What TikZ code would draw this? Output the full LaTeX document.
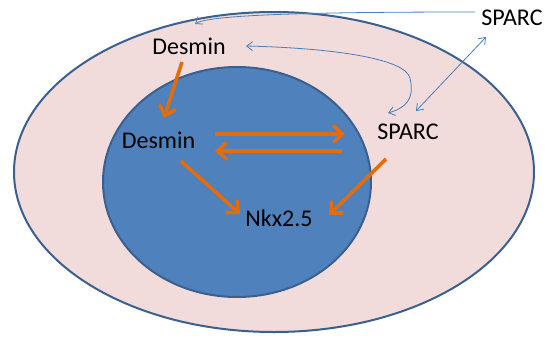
\documentclass[tikz,border=0pt]{standalone}
\usepackage{fontspec}
\setmainfont{Carlito}
\usetikzlibrary{arrows.meta}
\definecolor{outerfill}{HTML}{F2DCDB}
\definecolor{ringline}{HTML}{3A6090}
\definecolor{innerfill}{HTML}{4F81BD}
\definecolor{orangeA}{HTML}{E46C0A}
\definecolor{thinblue}{HTML}{4A7EBB}
\tikzset{
  lbl/.style={font=\fontsize{24}{28}\selectfont, inner sep=0pt, anchor=base},
  orar/.style={draw=orangeA, line width=3.6pt, -{Straight Barb[length=9pt,width=17pt,line width=3.6pt]}},
  blar/.style={draw=thinblue, line width=0.8pt, -{Straight Barb[length=6pt,width=9pt]}},
  blar2/.style={draw=thinblue, line width=0.8pt, {Straight Barb[length=6pt,width=9pt]}-{Straight Barb[length=6pt,width=9pt]}}
}
\begin{document}
\begin{tikzpicture}[x=1pt,y=-1pt]
\useasboundingbox (0,0) rectangle (547,338);
\draw[fill=outerfill, draw=ringline, line width=2pt] (274,172) ellipse [x radius=260, y radius=160];
\draw[fill=innerfill, draw=ringline, line width=2pt] (237,182) ellipse [x radius=134, y radius=115];
\node[lbl] (sparcT) at (512,25) {SPARC};
\node[lbl] (desO) at (189,54) {Desmin};
\node[lbl] (desI) at (158.5,148) {Desmin};
\node[lbl] (sparcM) at (408,139) {SPARC};
\node[lbl] (nkx) at (279,226) {Nkx2.5};
% orange arrows
\coordinate (a1s) at (182,62); \coordinate (a1e) at (164,118);
\draw[orar] (a1s) -- (a1e);
\coordinate (a2s) at (215,134); \coordinate (a2e) at (345,134);
\draw[orar] (a2s) -- (a2e);
\coordinate (a3s) at (342,151); \coordinate (a3e) at (215,151);
\draw[orar] (a3s) -- (a3e);
\coordinate (a4s) at (181,161); \coordinate (a4e) at (240,214);
\draw[orar] (a4s) -- (a4e);
\coordinate (a5s) at (386,159); \coordinate (a5e) at (329,215);
\draw[orar] (a5s) -- (a5e);
% blue thin arrows
\coordinate (b1s) at (475,12); \coordinate (b1e) at (195,24);
\draw[blar] (b1s) .. controls (330,12) and (210,14) .. (b1e);
\coordinate (b2s) at (416,111); \coordinate (b2e) at (486,37);
\draw[blar2] (b2s) -- (b2e);
\coordinate (b3s) at (246,46); \coordinate (b3e) at (388,113);
\draw[blar2] (b3s) .. controls (330,48) and (405,58) .. (410,78) .. controls (415,100) and (405,108) .. (b3e);
\end{tikzpicture}
\end{document}
